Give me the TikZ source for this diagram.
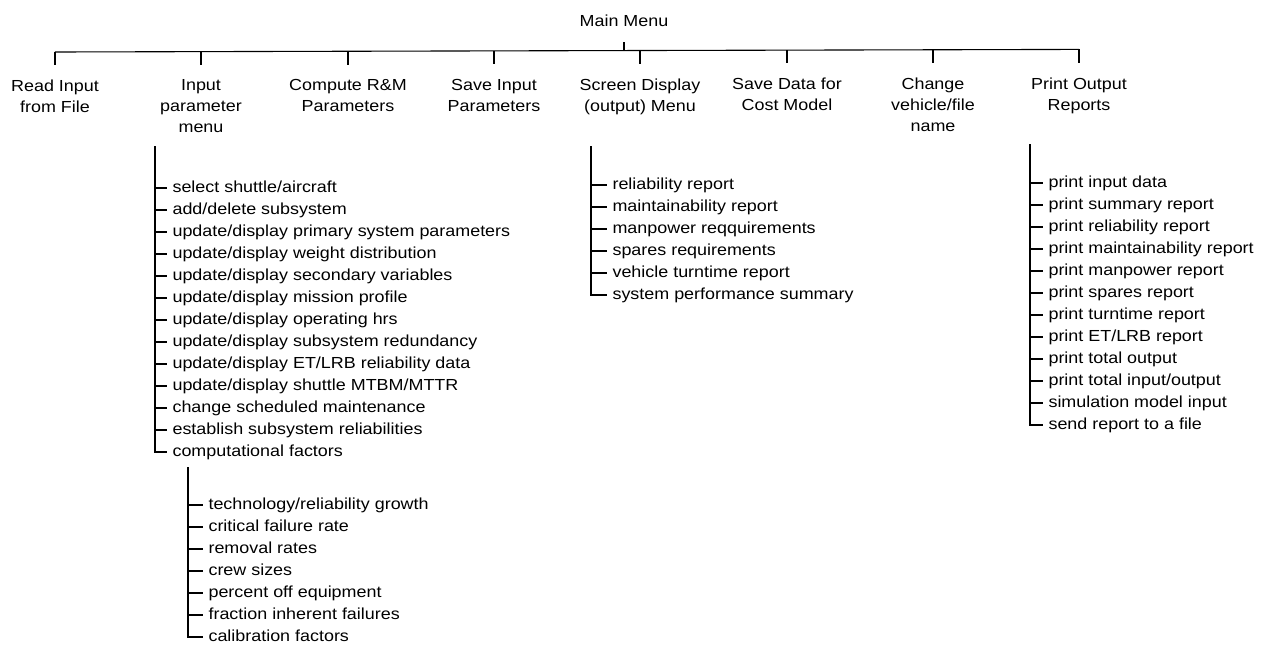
\documentclass[tikz,border=0pt]{standalone}
\usepackage{fontspec}
\setmainfont{Liberation Sans}[FakeStretch=1.12]
\begin{document}
\begin{tikzpicture}[x=1pt,y=-1pt,line width=1.1pt,
  lab/.style={anchor=north,inner sep=0pt,align=center,font=\fontsize{16}{21}\selectfont},
  item/.style={anchor=west,inner sep=0pt,font=\fontsize{16}{19}\selectfont,text height=12pt,text depth=3.5pt},
  head/.style={inner sep=0pt,font=\fontsize{16}{19}\selectfont}]
\useasboundingbox (0,0) rectangle (1270,646);
% main menu and bus
\node[head] (main) at (624,20.5) {Main Menu};
\coordinate (b0) at (624,50.6);
\coordinate (k1) at (55,52);
\coordinate (k2) at (201,51.6);
\coordinate (k3) at (348,51.2);
\coordinate (k4) at (494,50.9);
\coordinate (k5) at (640,50.5);
\coordinate (k6) at (787,50.1);
\coordinate (k7) at (933,49.8);
\coordinate (k8) at (1079,49.4);
\draw ([yshift=-15.5pt]main.south) -- (b0);
\draw (k1) -- (k8);
% top level labels
\node[lab] (t1) at (55,79.8) {Read Input\\from File};
\node[lab] (t2) at (201,79.4) {Input\\parameter\\menu};
\node[lab] (t3) at (348,79.0) {Compute R\&M\\Parameters};
\node[lab] (t4) at (494,78.6) {Save Input\\Parameters};
\node[lab] (t5) at (640,78.2) {Screen Display\\(output) Menu};
\node[lab] (t6) at (787,77.8) {Save Data for\\Cost Model};
\node[lab] (t7) at (933,77.4) {Change\\vehicle/file\\name};
\node[lab] (t8) at (1079,77.0) {Print Output\\Reports};
\foreach \i in {1,...,8}
  \draw (k\i) -- ([yshift=14.5pt]t\i.north);
% input parameter menu list
\coordinate (inTop) at (155,146);
\foreach \t [count=\i] in {select shuttle/aircraft,add/delete subsystem,
  update/display primary system parameters,update/display weight distribution,
  update/display secondary variables,update/display mission profile,
  update/display operating hrs,update/display subsystem redundancy,
  update/display ET/LRB reliability data,update/display shuttle MTBM/MTTR,
  change scheduled maintenance,establish subsystem reliabilities,computational factors}
  \node[item] (in\i) at (172,{188+22*(\i-1)}) {\t};
\draw (inTop) -- (inTop |- in13.west) -- ([xshift=-5pt]in13.west);
\foreach \i in {1,...,12}
  \draw (inTop |- in\i.west) -- ([xshift=-5pt]in\i.west);
% computational factors sub list
\coordinate (cfTop) at ([xshift=16pt,yshift=-15pt]in13.west);
\foreach \t [count=\i] in {technology/reliability growth,critical failure rate,
  removal rates,crew sizes,percent off equipment,fraction inherent failures,
  calibration factors}
  \node[item] (cf\i) at (208,{505+22*(\i-1)}) {\t};
\draw (cfTop) -- (cfTop |- cf7.west) -- ([xshift=-5pt]cf7.west);
\foreach \i in {1,...,6}
  \draw (cfTop |- cf\i.west) -- ([xshift=-5pt]cf\i.west);
% screen display list
\coordinate (scTop) at (591,146);
\foreach \t [count=\i] in {reliability report,maintainability report,
  manpower reqquirements,spares requirements,vehicle turntime report,
  system performance summary}
  \node[item] (sc\i) at (612,{185+22*(\i-1)}) {\t};
\draw (scTop) -- (scTop |- sc6.west) -- ([xshift=-5pt]sc6.west);
\foreach \i in {1,...,5}
  \draw (scTop |- sc\i.west) -- ([xshift=-5pt]sc\i.west);
% print output list
\coordinate (prTop) at (1030,144);
\foreach \t [count=\i] in {print input data,print summary report,
  print reliability report,print maintainability report,print manpower report,
  print spares report,print turntime report,print ET/LRB report,
  print total output,print total input/output,simulation model input,
  send report to a file}
  \node[item] (pr\i) at (1048,{183+22*(\i-1)}) {\t};
\draw (prTop) -- (prTop |- pr12.west) -- ([xshift=-5pt]pr12.west);
\foreach \i in {1,...,11}
  \draw (prTop |- pr\i.west) -- ([xshift=-5pt]pr\i.west);
\end{tikzpicture}
\end{document}
